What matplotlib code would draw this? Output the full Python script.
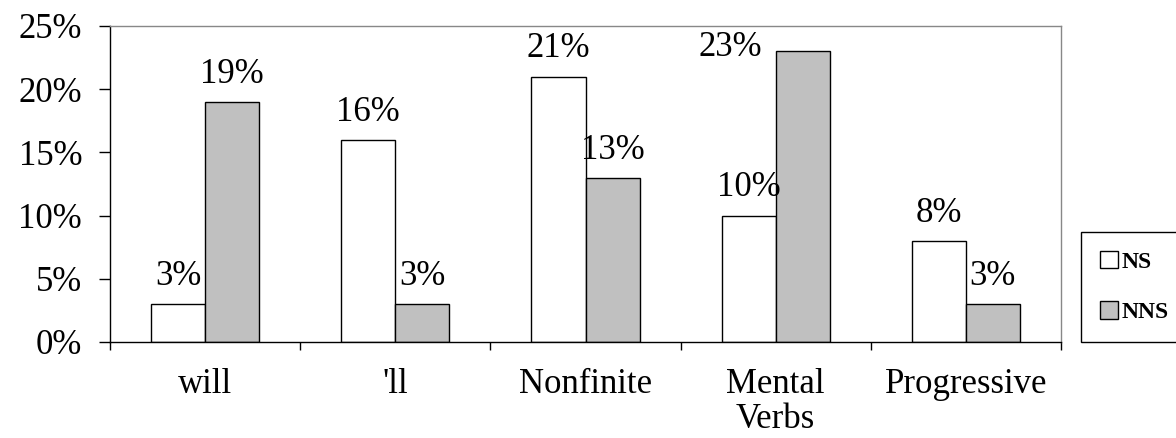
import numpy as np
import matplotlib.pyplot as plt
from matplotlib.ticker import FixedLocator

# data
categories = ['will', "'ll", 'Nonfinite', 'Mental\nVerbs', 'Progressive']
ns_vals = [3, 16, 21, 10, 8]
nns_vals = [19, 3, 13, 23, 3]
yticks = [0, 5, 10, 15, 20, 25]

plt.rcParams['font.family'] = ['Liberation Serif', 'DejaVu Serif']
FS = 25

fig = plt.figure(figsize=(11.76, 4.38), dpi=100)
ax = fig.add_axes([110/1176, 96/438, 951/1176, 316/438])

x = np.arange(len(categories))
w = 0.284
b1 = ax.bar(x - w/2, ns_vals, w, color='white', edgecolor='black', linewidth=1, label='NS')
b2 = ax.bar(x + w/2, nns_vals, w, color='#c0c0c0', edgecolor='black', linewidth=1, label='NNS')

ax.set_xlim(-0.5, len(categories) - 0.5)
ax.set_ylim(0, 25)
ax.set_yticks(yticks)
ax.set_yticklabels([f'{t}%' for t in yticks], fontsize=FS)
ax.set_xticks(x)
ax.set_xticklabels(categories, fontsize=FS, linespacing=1.08)
ax.xaxis.set_minor_locator(FixedLocator(np.arange(-0.5, len(categories), 1)))
ax.tick_params(axis='x', which='major', length=0, pad=19)
ax.tick_params(axis='x', which='minor', length=6, width=1, direction='out')
ax.tick_params(axis='y', length=8, width=1, direction='out', pad=12)

for s in ['top', 'right']:
    ax.spines[s].set_color('#888888')
    ax.spines[s].set_linewidth(1)
for s in ['left', 'bottom']:
    ax.spines[s].set_color('black')
    ax.spines[s].set_linewidth(1)

# value labels above bars
for bars, vals in [(b1, ns_vals), (b2, nns_vals)]:
    for r, v in zip(bars, vals):
        cx = r.get_x() + r.get_width() / 2
        dx, dy = 0, 8
        if v == 23:
            dx, dy = -52, -9
        ax.annotate(f'{v}%', (cx, v), xytext=(dx, dy), textcoords='offset points',
                    ha='center', va='bottom', fontsize=FS)

leg = fig.legend(loc='lower left', bbox_to_anchor=(1081/1176, 96/438),
                 bbox_transform=fig.transFigure, borderaxespad=0,
                 prop={'weight': 'bold', 'size': 17}, fancybox=False,
                 edgecolor='black', framealpha=1, handlelength=0.75,
                 handleheight=0.75, handletextpad=0.15, labelspacing=1.2,
                 borderpad=0.8)
leg.get_frame().set_linewidth(1)

fig.savefig('out.png', dpi=100)
